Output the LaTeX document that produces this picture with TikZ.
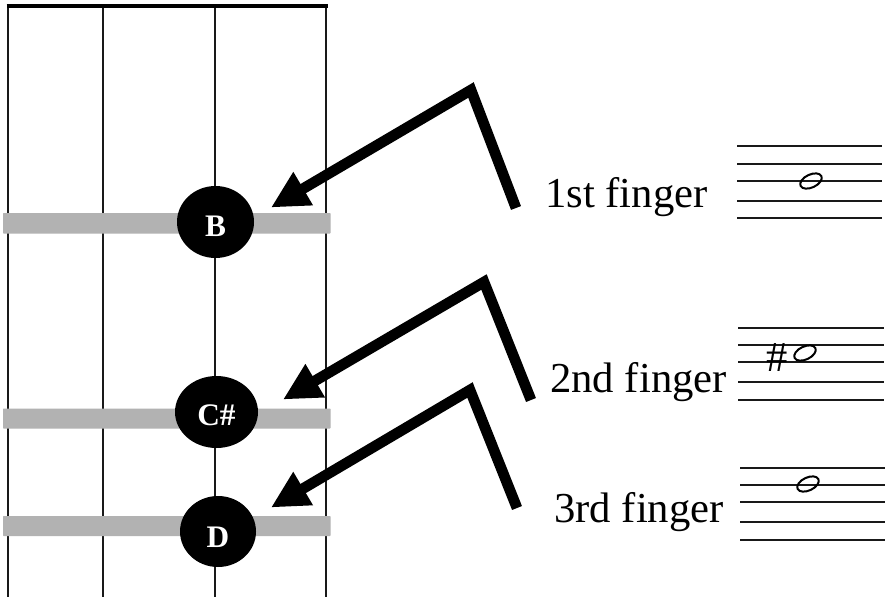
\documentclass[tikz,border=0pt]{standalone}
\usepackage{fontspec}
\setmainfont{Liberation Serif}
\usetikzlibrary{arrows.meta,shapes.geometric}
\tikzset{
  x=0.75pt,y=-0.75pt,
  stringline/.style={line width=1.6pt,black!90},
  fret/.style={draw=none,fill=black!30,rounded corners=0.5pt},
  fing/.style={ellipse,fill=black,inner sep=0pt},
  fingtext/.style={text=white,inner sep=0pt,font=\fontsize{23.5pt}{25pt}\selectfont\bfseries},
  pointer/.style={line width=8pt,miter limit=10,-{Triangle[length=28pt,width=27pt]},black},
  flabel/.style={anchor=base west,inner sep=0pt,font=\fontsize{32pt}{34pt}\selectfont},
  staffline/.style={line width=1.5pt,black!90},
  notehead/.style={line width=1.5pt}
}
\begin{document}
\begin{tikzpicture}
\useasboundingbox (0,0) rectangle (886,597);
\fill[white] (0,0) rectangle (886,597);
% strings
\foreach \x in {8,103,215,326}{\draw[stringline] (\x,6) -- (\x,597);}
\draw[line width=3pt,black] (6.5,6) -- (327.5,6);
% frets
\fill[fret] (3,213) rectangle (330.5,233.5);
\fill[fret] (3,408.5) rectangle (330.5,428.5);
\fill[fret] (3,516) rectangle (330.5,536);
% finger dots
\node[fing,minimum width=57.75pt,minimum height=54pt] (b) at (215.5,222) {};
\node[fing,minimum width=62.25pt,minimum height=54pt] (cs) at (216.5,412) {};
\node[fing,minimum width=57pt,minimum height=53.25pt] (d) at (218,531.5) {};
\node[fingtext,anchor=base] (bt) at (215.5,236) {B};
\node[fingtext,anchor=base] (cst) at (216.5,425.5) {C\#};
\node[fingtext,anchor=base] (dt) at (218,547) {D};
% labels
\node[flabel] (l1) at (545,207) {1st finger};
\node[flabel] (l2) at (550,392) {2nd finger};
\node[flabel] (l3) at (554,522) {3rd finger};
% pointers
\coordinate (a1s) at (516,208); \coordinate (a1e) at (471,90); \coordinate (a1t) at (271,207.5);
\coordinate (a2s) at (531,400); \coordinate (a2e) at (484,282); \coordinate (a2t) at (283,399.5);
\coordinate (a3s) at (517,508); \coordinate (a3e) at (470,390); \coordinate (a3t) at (271,507.5);
\draw[pointer] (a1s) -- (a1e) -- (a1t);
\draw[pointer] (a2s) -- (a2e) -- (a2t);
\draw[pointer] (a3s) -- (a3e) -- (a3t);
% staves
\foreach \y in {146,164,181,201,218}{\draw[staffline] (737,\y) -- (882,\y);}
\foreach \y in {327.5,345,362,382,400}{\draw[staffline] (738,\y) -- (884,\y);}
\foreach \y in {467.5,485,502,522,540}{\draw[staffline] (740,\y) -- (885,\y);}
% notes
\draw[notehead,rotate around={25:(811,181)}] (811,181) ellipse [x radius=11.5,y radius=6.5];
\draw[notehead,fill=white,rotate around={25:(805,353)}] (805,353) ellipse [x radius=11.5,y radius=6.5];
\draw[notehead,rotate around={25:(808,484)}] (808,484) ellipse [x radius=11.5,y radius=6.5];
\node[inner sep=0pt,anchor=base,font=\fontsize{32pt}{34pt}\selectfont] (sharp) at (777.5,371) {\#};
\end{tikzpicture}
\end{document}
